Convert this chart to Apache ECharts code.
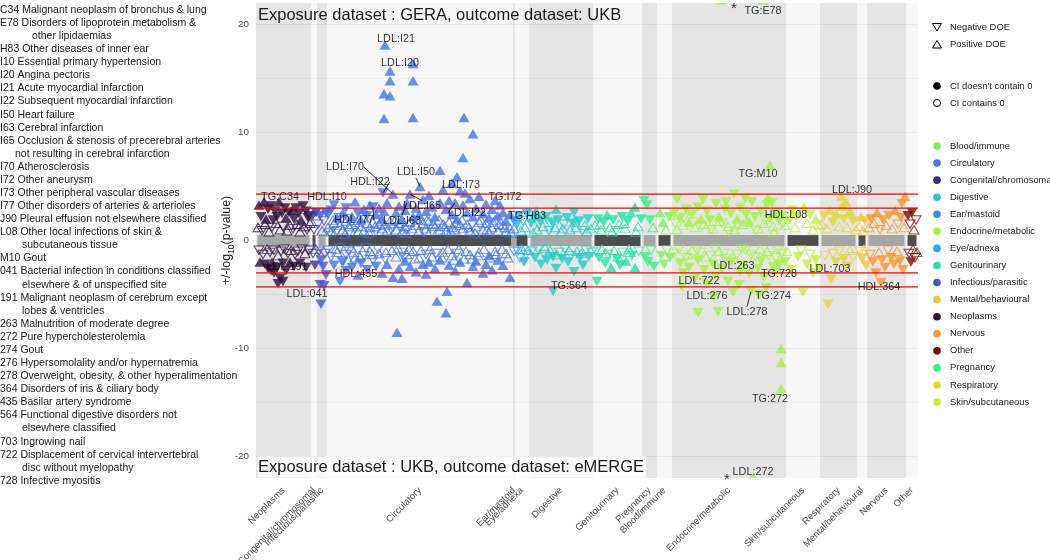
<!DOCTYPE html>
<html><head><meta charset="utf-8">
<script src="https://cdn.jsdelivr.net/npm/echarts@6.0.0/dist/echarts.min.js"></script>
<style>html,body{margin:0;padding:0;background:#fff}#chart{width:1050px;height:560px}</style>
</head><body><div id="chart"></div>
<script>
// ---------------- DATA ----------------
const categories = ['Neoplasms','Congenital/chromosomal','Infectious/parasitic','Circulatory','Ear/mastoid','Eye/adnexa','Digestive','Genitourinary','Pregnancy','Blood/immune','Endocrine/metabolic','Skin/subcutaneous','Respiratory','Mental/behavioural','Nervous','Other'];
const phenotypeCounts = [55,6,10,186,2,14,64,49,15,15,114,34,37,10,39,12];
const categoryColors = ['#2D0F3C','#372D8C','#4155D2','#4173EB','#378CF0','#23AFEB','#1ECDC8','#23E1A5','#32F082','#77F25A','#A0F53C','#C3F037','#E1D732','#F5C337','#FA9628','#780A0A'];
const legendOrder = ['Blood/immune','Circulatory','Congenital/chromosomal','Digestive','Ear/mastoid','Endocrine/metabolic','Eye/adnexa','Genitourinary','Infectious/parasitic','Mental/behavioural','Neoplasms','Nervous','Other','Pregnancy','Respiratory','Skin/subcutaneous'];
const yTicks = [-20,-10,0,10,20];
const yGridMajor = [-20,-10,10,20];
const yGridMinor = [-15,-5,5,15];
const thresholds = [3.0, 4.3, -3.0, -4.3];
const shapeLegend = ['Negative DOE','Positive DOE'];
const ciLegend = ["CI doesn't contain 0",'CI contains 0'];
const panelTitles = ['Exposure dataset : GERA, outcome dataset: UKB','Exposure dataset : UKB, outcome dataset: eMERGE'];
// point: [phenotype index, signed -log10 p, code (U/D filled up/down, u/d hollow up/down), label]
const neoplasmsPts = [[3,3.3,'U'],[8,3.6,'U','TG:C34'],[12,2.9,'D'],[15,3.2,'D'],[19,2.7,'D'],[23,3.6,'U'],[26,2.5,'D'],[29,3.0,'D'],[33,2.6,'D'],[36,2.8,'U'],[40,3.0,'D'],[43,2.5,'D'],[47,3.2,'D'],[50,2.7,'D'],[53,2.3,'D'],
[5,2.2,'D'],[10,2.0,'U'],[17,1.9,'D'],[21,2.2,'D'],[30,2.1,'U'],[38,2.0,'D'],[45,1.9,'U'],[52,2.1,'D'],
[2,1.2,'u'],[6,0.9,'d'],[9,1.5,'u'],[13,0.8,'u'],[16,1.2,'d'],[20,1.6,'u'],[24,1.0,'u'],[27,1.3,'d'],[31,0.9,'u'],[34,1.4,'u'],[37,1.1,'d'],[41,1.5,'u'],[44,0.8,'u'],[48,1.3,'u'],[51,1.0,'d'],[54,1.6,'u'],
[3,-0.9,'d'],[7,-1.3,'d'],[11,-0.8,'u'],[14,-1.1,'d'],[18,-0.9,'d'],[22,-1.4,'u'],[25,-1.0,'d'],[28,-0.8,'d'],[32,-1.2,'d'],[35,-0.9,'u'],[39,-1.3,'d'],[42,-1.0,'d'],[46,-0.8,'d'],[49,-1.2,'u'],[53,-0.9,'d'],
[4,-2.0,'U'],[9,-2.2,'D'],[12,-2.6,'D'],[16,-2.0,'U'],[18,-3.0,'D'],[21,-2.5,'D'],[22,-4.0,'D','LDL:191'],[24,-3.5,'D'],[27,-2.1,'D'],[30,-2.8,'D'],[34,-2.0,'U'],[38,-2.4,'D'],[44,-2.1,'D'],[50,-2.5,'D'],[15,-2.8,'D'],[27,-3.8,'D']];
const congenitalPts = [[56,2.2,'D'],[58,1.0,'d'],[60,2.6,'D'],[57,-1.2,'d'],[59,-2.3,'D'],[60,-0.8,'u']];
const infectiousPts = [[62,1.5,'d'],[64,2.3,'D'],[66,0.9,'u'],[68,1.8,'d'],[70,2.6,'D'],[63,-1.0,'d'],[65,-1.8,'D'],[67,-2.4,'D'],[69,-1.2,'d'],[64,-4.1,'D'],[68,-4.2,'D'],[65,-5.9,'D','LDL:041'],[70,-3.2,'D']];
const circulatoryPts = [[72,1.2,'u'],[72,-0.9,'d'],[72,2.4,'D'],[75,2.8,'D'],[75,0.8,'u'],[75,-1.5,'d'],[78,3.3,'D','HDL:I10'],[78,1.6,'u'],[78,-2.3,'D'],
[81,2.1,'U'],[81,0.9,'d'],[81,-1.1,'u'],[84,1.4,'u'],[84,-3.8,'D','HDL:435'],[84,-0.7,'d'],[87,2.6,'U'],[87,1.0,'u'],[87,-2.0,'D'],
[90,3.0,'D'],[90,1.8,'u'],[90,-1.3,'d'],[90,-2.8,'D'],[93,1.3,'u'],[93,0.7,'d'],[93,-1.0,'d'],[96,2.2,'U'],[96,1.5,'u'],[96,-2.5,'D'],
[99,3.6,'U'],[99,1.1,'d'],[99,-1.6,'u'],[102,2.5,'D'],[102,0.8,'u'],[102,-0.9,'d'],[102,-3.2,'U'],[105,1.9,'U'],[105,1.3,'u'],[105,-2.1,'D'],
[108,2.9,'U'],[108,0.9,'u'],[108,-1.4,'d'],[111,1.6,'u'],[111,2.3,'D'],[111,-2.7,'D'],[114,3.3,'U'],[114,1.2,'u'],[114,-1.0,'u'],
[117,3.1,'D','HDL:I77'],[117,1.7,'u'],[117,-1.8,'d'],[120,2.4,'U'],[120,0.8,'d'],[120,-2.4,'D'],[123,1.5,'u'],[123,3.0,'U'],[123,-1.2,'u'],
[126,2.0,'U'],[126,1.1,'u'],[126,-3.0,'U'],[127,4.4,'D','HDL:I22'],[128,13.6,'U'],[128,11.3,'U'],[128,2.7,'U'],
[129,18.1,'U','LDL:I21'],[129,1.4,'u'],[129,-1.7,'d'],[131,3.5,'U'],[131,0.9,'u'],[131,-2.2,'U'],
[134,15.7,'U','LDL:I20'],[134,14.8,'U'],[134,13.4,'U'],[134,1.8,'u'],[137,4.3,'U','LDL:I70'],[137,-3.4,'U'],[137,1.2,'d'],
[140,2.6,'U'],[140,1.0,'u'],[140,-1.5,'u'],[141,-8.5,'U'],[143,3.2,'U'],[143,1.6,'u'],[143,-2.6,'U'],
[146,2.0,'U'],[146,0.8,'u'],[146,-1.1,'d'],[146,-3.5,'U'],[149,2.8,'U'],[149,1.3,'u'],[149,-1.9,'U'],
[151,3.5,'U','LDL:I63'],[151,1.0,'d'],[151,-1.3,'u'],[154,4.3,'U','LDL:I65'],[154,1.7,'u'],[154,-2.4,'U'],
[157,16.4,'U'],[157,14.8,'U'],[157,11.4,'U'],[157,2.2,'U'],[157,-1.0,'u'],[160,3.0,'U'],[160,1.4,'u'],[160,-2.9,'U'],
[163,2.4,'U'],[163,0.9,'u'],[163,-1.6,'u'],[164,5.0,'U','LDL:I50'],[167,3.8,'U'],[167,1.6,'u'],[167,-2.2,'U'],
[170,2.7,'U'],[170,1.1,'u'],[170,-1.3,'d'],[170,-3.1,'U'],[173,4.2,'U'],[173,1.8,'u'],[173,-2.0,'U'],
[176,3.1,'U'],[176,0.8,'d'],[176,-1.5,'u'],[179,2.2,'U'],[179,1.3,'u'],[179,-2.6,'U'],[181,-5.6,'U'],
[184,6.5,'U'],[184,3.5,'U'],[184,1.0,'u'],[184,-1.8,'U'],[187,4.7,'U'],[187,1.5,'u'],[187,-1.1,'u'],
[190,-6.7,'U'],[190,2.9,'U'],[190,0.9,'u'],[191,-4.7,'U'],[193,3.7,'U'],[193,1.7,'u'],[193,-2.3,'U'],
[196,5.3,'U'],[196,2.4,'U'],[196,1.2,'u'],[196,-1.4,'u'],[199,3.5,'U','LDL:I22'],[199,1.0,'u'],[199,-2.8,'U'],
[201,5.9,'U'],[201,2.0,'U'],[201,-1.2,'d'],[204,4.6,'U'],[204,1.4,'u'],[204,-2.0,'U'],
[207,7.7,'U'],[207,3.3,'U'],[207,1.1,'u'],[208,11.4,'U'],[208,-1.7,'u'],[209,4.4,'U','LDL:I73'],
[211,-3.9,'U'],[211,2.6,'U'],[211,1.5,'u'],[214,3.9,'U'],[214,0.9,'u'],[214,-1.3,'u'],
[217,9.9,'U'],[217,2.2,'U'],[217,-2.4,'U'],[220,3.0,'U'],[220,1.3,'u'],[220,-1.9,'U'],
[223,4.1,'U'],[223,1.7,'u'],[223,-1.1,'u'],[227,-3.0,'U'],[227,2.5,'U'],[227,1.0,'u'],
[230,3.4,'U'],[230,1.6,'u'],[230,-2.2,'U'],[233,2.1,'U'],[233,0.8,'u'],[233,-1.4,'U'],
[236,2.9,'U'],[236,1.2,'u'],[236,-2.7,'U'],[239,3.7,'U'],[239,1.9,'u'],[239,-1.0,'u'],
[242,2.3,'U'],[242,0.9,'u'],[242,-1.8,'U'],[244,3.3,'U','TG:I72'],[247,2.6,'U'],[247,1.4,'u'],[247,-2.3,'U'],
[250,1.8,'U'],[250,0.8,'u'],[250,-1.2,'u'],[254,-3.4,'U'],[254,2.4,'U'],[254,1.1,'u'],
[74,0.7,'d'],[77,1.9,'u'],[80,-0.8,'u'],[83,2.1,'d'],[86,-1.9,'d'],[89,0.6,'u'],[92,2.0,'d'],[95,-0.7,'u'],[98,-1.9,'d'],[101,1.7,'u'],[104,-1.5,'u'],[107,2.1,'u'],[110,-0.7,'d'],[113,0.7,'u'],[116,-1.3,'u'],[119,1.3,'u'],[122,-0.8,'d'],[125,1.8,'u'],[130,-1.1,'u'],[133,0.8,'d'],[136,-0.9,'u'],[139,1.9,'u'],[142,-0.7,'u'],[145,1.2,'d'],[148,-1.6,'d'],[150,0.7,'u'],[153,-0.8,'u'],[156,1.1,'u'],[159,-1.7,'u'],[162,1.9,'u'],[165,-0.9,'u'],[168,0.7,'d'],[171,1.9,'u'],[174,-0.8,'u'],[177,1.5,'u'],[180,-1.2,'d'],[183,1.9,'u'],[186,-1.6,'u'],[189,1.3,'u'],[192,-0.8,'u'],[195,0.8,'u'],[198,-1.8,'u'],[200,1.6,'u'],[203,-0.8,'u'],[206,1.9,'u'],[210,-1.0,'u'],[213,1.2,'u'],[216,-1.7,'u'],[219,0.7,'u'],[222,-1.4,'u'],[225,1.9,'u'],[228,-0.8,'u'],[231,1.0,'u'],[234,-1.6,'u'],[237,1.7,'u'],[240,-1.3,'u'],[243,1.5,'u'],[246,-0.8,'u'],[249,1.2,'u'],[252,-1.6,'u'],[255,0.7,'u']];
const earPts = [[258,1.8,'D','TG:H83'],[258,-1.0,'d'],[258,1.1,'u']];
const eyePts = [[261,1.5,'D'],[263,2.3,'D'],[265,0.9,'u'],[267,1.8,'d'],[269,1.2,'u'],[271,2.5,'D'],[262,-1.0,'d'],[264,-1.6,'d'],[266,-0.8,'u'],[268,-2.0,'D'],[270,-1.3,'d'],[272,-0.9,'u']];
const digestivePts = [[275,1.6,'D'],[278,2.0,'D'],[281,1.0,'u'],[284,1.8,'D'],[287,1.3,'u'],[290,2.2,'D'],[293,0.9,'d'],[296,1.7,'D'],[299,1.2,'u'],[302,1.9,'D'],[305,0.8,'u'],[308,1.5,'d'],[311,2.1,'D'],[314,1.0,'u'],[317,1.6,'D'],[320,1.2,'u'],[323,1.8,'D'],[326,0.9,'d'],[329,1.4,'u'],[332,2.0,'D'],[335,1.1,'u'],
[280,2.7,'U'],[300,2.9,'U'],[318,2.6,'D'],
[276,-1.0,'d'],[279,-1.6,'D'],[282,-0.8,'d'],[285,-2.2,'D'],[288,-1.3,'d'],[291,-1.8,'D'],[294,-0.9,'u'],[297,-4.7,'D','TG:564'],[297,-1.5,'D'],[300,-2.6,'D'],[303,-1.1,'d'],[306,-1.7,'D'],[309,-0.8,'d'],[312,-2.0,'D'],[315,-1.4,'d'],[318,-2.9,'D'],[321,-1.0,'u'],[324,-1.6,'D'],[327,-2.3,'D'],[330,-0.9,'d'],[333,-1.5,'D'],[336,-1.1,'d'],
[277,0.7,'u'],[283,1.5,'d'],[289,-0.7,'u'],[295,1.4,'d'],[301,-1.3,'u'],[307,1.1,'u'],[313,-0.9,'u'],[319,1.7,'u'],[325,-1.2,'u'],[331,0.8,'u']];
const genitourinaryPts = [[339,1.4,'u'],[342,2.0,'D'],[345,1.0,'u'],[348,1.7,'D'],[351,2.4,'U'],[354,1.2,'u'],[357,1.9,'D'],[360,0.9,'d'],[363,1.5,'u'],[366,2.2,'D'],[369,1.1,'u'],[372,1.8,'D'],[375,2.6,'U'],[379,3.1,'U'],[382,1.3,'u'],[385,2.0,'D'],
[341,-3.8,'D'],[340,-1.0,'d'],[343,-1.6,'D'],[346,-0.8,'u'],[349,-2.1,'D'],[352,-1.3,'d'],[355,-2.5,'U'],[358,-0.9,'u'],[361,-1.7,'D'],[364,-2.3,'D'],[367,-1.1,'d'],[370,-1.9,'U'],[373,-0.8,'u'],[376,-1.4,'D'],[379,-2.5,'U'],[383,-1.0,'d'],
[344,1.5,'u'],[350,-1.2,'u'],[356,0.8,'u'],[362,-1.5,'u'],[368,1.6,'u'],[374,-1.1,'u'],[380,0.8,'u']];
const pregnancyPts = [[388,3.7,'D'],[391,3.3,'D'],[394,1.9,'D'],[397,1.2,'u'],[389,-1.5,'D'],[392,-2.0,'D'],[395,-0.9,'d'],[398,-2.4,'D']];
const bloodPts = [[404,2.6,'U'],[407,1.7,'U'],[410,1.0,'u'],[413,2.2,'D'],[405,-1.4,'D'],[408,-2.2,'D'],[411,-0.9,'d'],[414,-1.6,'D']];
const endocrinePts = [[418,2.5,'D'],[418,-1.2,'d'],[421,3.8,'D'],[421,1.0,'u'],[424,2.0,'D'],[424,-2.1,'D'],[427,1.4,'u'],[427,-3.0,'D'],[430,2.9,'D'],[430,-1.6,'d'],[433,1.7,'U'],[433,-2.5,'D'],[436,2.4,'D'],[436,-0.9,'u'],[439,1.2,'u'],[439,-3.5,'D'],
[442,-6.7,'D','LDL:276'],[442,3.1,'D'],[442,-1.8,'D'],[445,2.0,'U'],[445,-1.1,'d'],[448,1.5,'u'],[448,-2.7,'D'],[451,2.7,'D'],[451,-4.0,'D','LDL:722'],[454,1.9,'D'],[454,-1.4,'d'],[457,1.1,'u'],[457,-2.2,'D'],
[460,3.4,'D'],[460,-3.3,'D'],[462,-6.6,'D'],[463,2.2,'U'],[463,-1.0,'u'],[466,1.6,'d'],[466,-2.6,'D'],[469,2.9,'D'],[469,-1.7,'d'],[472,1.3,'u'],[472,-3.8,'D'],
[475,2.5,'D'],[475,-2.0,'D','LDL:263'],[477,-4.8,'D'],[478,4.3,'D'],[478,1.0,'u'],[481,2.0,'U'],[481,-1.3,'d'],[484,3.0,'D'],[484,-2.9,'D'],[487,1.5,'u'],[487,-2.3,'D'],
[490,2.4,'D'],[490,-0.9,'d'],[493,1.8,'U'],[493,-3.1,'D'],[495,-4.7,'D','LDL:278'],[496,3.6,'D'],[499,2.2,'D'],[499,-1.5,'d'],[502,1.1,'u'],[502,-2.6,'D'],[505,2.7,'D'],[505,-1.9,'D'],
[508,1.6,'u'],[508,-3.4,'D'],[510,-4.4,'D','TG:274'],[511,3.3,'D'],[511,-1.0,'u'],[512,4.0,'U'],[514,7.0,'U','TG:M10'],[514,2.0,'D'],[517,-2.4,'D'],[517,1.3,'u'],
[520,2.6,'D'],[520,-2.9,'D','TG:728'],[520,-1.6,'d'],[523,1.8,'D'],[523,-2.2,'D'],[525,-10.0,'U'],[525,-11.3,'U'],[525,-13.7,'U','TG:272'],[526,2.3,'D'],[526,-1.2,'d'],[529,1.4,'u'],[529,-2.0,'D'],
[465,22.3,'U'],[507,22.3,'U','TG:E78'],[497,-21.9,'U','LDL:272'],
[419,1.6,'d'],[423,-0.8,'d'],[428,2.1,'d'],[432,-1.3,'u'],[437,1.7,'d'],[441,-0.9,'d'],[446,1.3,'d'],[450,-1.5,'u'],[455,1.0,'d'],[459,-0.8,'d'],[464,1.8,'u'],[468,-1.2,'d'],[473,0.8,'d'],[477,-1.6,'u'],[482,1.4,'d'],[486,-0.8,'d'],[491,1.7,'u'],[495,-1.3,'d'],[500,0.9,'d'],[504,-0.8,'u'],[509,1.9,'d'],[513,-1.4,'d'],[518,0.8,'u'],[522,-0.9,'d'],[527,1.6,'d'],
[426,-4.3,'D'],[447,3.8,'D'],[458,-5.2,'D'],[470,3.6,'D'],[483,-4.1,'D'],[489,3.9,'D'],[503,-5.0,'D'],[516,3.5,'D']];
const skinPts = [[533,1.9,'D'],[536,2.8,'D'],[539,1.2,'u'],[540,2.2,'D','HDL:L08'],[542,-1.5,'D'],[545,-0.9,'d'],[547,-4.8,'D'],[548,3.1,'U'],[551,1.6,'u'],[551,-2.2,'D'],[554,2.4,'D'],[554,-1.3,'d'],[557,-3.0,'D'],[557,1.0,'u'],[560,2.0,'U'],[560,-1.8,'D'],[563,1.4,'u'],[563,-2.6,'D'],[535,-2.7,'D'],[531,-1.0,'u']];
const respiratoryPts = [[566,1.5,'u'],[568,2.3,'D'],[571,1.1,'u'],[572,-5.9,'D'],[574,2.8,'U'],[575,-3.6,'D','LDL:703'],[577,1.7,'D'],[577,-1.2,'d'],[580,2.5,'U'],[580,-2.0,'D'],[583,1.3,'u'],[583,-1.0,'d'],[585,4.1,'U','LDL:J90'],[586,3.2,'U'],[588,2.0,'D'],[588,-1.7,'D'],[591,1.2,'u'],[591,-2.4,'D'],[594,2.7,'U'],[594,-0.9,'u'],[597,1.8,'D'],[597,-1.5,'d'],[600,1.0,'u'],[569,-1.4,'d'],[590,3.6,'U']];
const mentalPts = [[603,1.3,'u'],[605,2.2,'U'],[607,0.9,'u'],[609,1.8,'D'],[604,-1.0,'d'],[606,-1.7,'D'],[608,-0.8,'u'],[610,-2.3,'D']];
const nervousPts = [[613,1.2,'u'],[615,2.0,'D'],[618,1.6,'u'],[621,2.6,'U'],[624,1.0,'d'],[627,1.9,'D'],[630,1.4,'u'],[633,2.3,'D'],[636,1.1,'u'],[639,2.8,'U'],[642,1.5,'d'],[645,2.1,'D'],[648,1.2,'u'],[614,-1.3,'d'],[617,-2.0,'D'],[620,-3.0,'D'],[623,-1.1,'u'],[625,-3.9,'D','HDL:364'],[626,-1.8,'D'],[629,-2.5,'D'],[632,-0.9,'d'],[635,-1.6,'D'],[638,-2.2,'D'],[641,-1.0,'u'],[644,-1.9,'D'],[647,-2.7,'D'],[649,4.1,'U'],[646,3.4,'D']];
const otherPts = [[652,2.3,'D'],[654,1.5,'d'],[656,2.6,'D'],[658,1.0,'u'],[660,1.9,'d'],[653,-1.2,'d'],[655,-2.0,'D'],[657,-0.8,'u'],[659,-1.6,'d'],[661,-1.1,'u']];
const categoryPoints = [neoplasmsPts,congenitalPts,infectiousPts,circulatoryPts,earPts,eyePts,digestivePts,genitourinaryPts,pregnancyPts,bloodPts,endocrinePts,skinPts,respiratoryPts,mentalPts,nervousPts,otherPts];
const offScaleMarks = [[478,21.5],[471,-22.2]];
const phenotypeNotes = [
 ['C34 Malignant neoplasm of bronchus & lung'],
 ['E78 Disorders of lipoprotein metabolism &','other lipidaemias'],
 ['H83 Other diseases of inner ear'],
 ['I10 Essential primary hypertension'],
 ['I20 Angina pectoris'],
 ['I21 Acute myocardial infarction'],
 ['I22 Subsequent myocardial infarction'],
 ['I50 Heart failure'],
 ['I63 Cerebral infarction'],
 ['I65 Occlusion & stenosis of precerebral arteries','not resulting in cerebral infarction'],
 ['I70 Atherosclerosis'],
 ['I72 Other aneurysm'],
 ['I73 Other peripheral vascular diseases'],
 ['I77 Other disorders of arteries & arterioles'],
 ['J90 Pleural effusion not elsewhere classified'],
 ['L08 Other local infections of skin &','subcutaneous tissue'],
 ['M10 Gout'],
 ['041 Bacterial infection in conditions classified','elsewhere & of unspecified site'],
 ['191 Malignant neoplasm of cerebrum except','lobes & ventricles'],
 ['263 Malnutrition of moderate degree'],
 ['272 Pure hypercholesterolemia'],
 ['274 Gout'],
 ['276 Hypersomolality and/or hypernatremia'],
 ['278 Overweight, obesity, & other hyperalimentation'],
 ['364 Disorders of iris & ciliary body'],
 ['435 Basilar artery syndrome'],
 ['564 Functional digestive disorders not','elsewhere classified'],
 ['703 Ingrowing nail'],
 ['722 Displacement of cervical intervertebral','disc without myelopathy'],
 ['728 Infective myositis']
];

// ---------------- LAYOUT / STYLE ----------------
const FONT = "'Liberation Sans', Arial, Helvetica, sans-serif";
const GRID = {left: 256, right: 132, top: 3, bottom: 82};
// label nudges in px: [dx, dy, leader line]
const labelNudge = {
 'TG:C34':[16,-5,false],'LDL:191':[9,-17,false],'LDL:041':[-14,-10,false],'HDL:I10':[-7,-8,false],'HDL:435':[16,-7,false],
 'HDL:I77':[-19,13,true],'HDL:I22':[-13,-11,true],'LDL:I21':[11,-6,false],'LDL:I20':[10,-8,false],'LDL:I70':[-48,-27,true],
 'LDL:I63':[-5,18,true],'LDL:I65':[12,12,true],'LDL:I50':[-4,-14,true],'LDL:I22':[12,10,true],'LDL:I73':[-4,-8,false],
 'TG:I72':[5,-8,false],'TG:H83':[13,-5,false],'TG:564':[16,-5,false],'TG:M10':[-12,9,false],'LDL:263':[3,4,false],
 'LDL:722':[-8,-3,false],'LDL:276':[9,-17,false],'TG:274':[7,8,false],'LDL:278':[-4,21,true],'TG:728':[3,2,false],
 'TG:272':[-11,11,false],'LDL:272':[0,-5,false],'TG:E78':[0,11,false],'HDL:L08':[-10,-2,false],'LDL:J90':[11,-6,false],
 'LDL:703':[-1,-10,false],'HDL:364':[-2,4,false]
};
const noteIndent = {1:32, 9:15};

// category ranges
const catStart = [];
let acc = 0;
phenotypeCounts.forEach(n => { catStart.push(acc); acc += n; });
const xMax = acc;
const catCenters = catStart.map((s,i) => s + phenotypeCounts[i]/2);

const allPts = [];
categoryPoints.forEach((pts, ci) => pts.forEach(p => allPts.push({x:p[0], y:p[1], code:p[2], label:p[3], color:categoryColors[ci]})));

const hollowData = allPts.filter(p => p.code==='u'||p.code==='d').map(p => ({
  value:[p.x,p.y], symbolRotate: p.code==='d'?180:0,
  itemStyle:{color:'rgba(255,255,255,0)', borderColor:p.color, borderWidth:1}
}));
const filledData = allPts.filter(p => p.code==='U'||p.code==='D').map(p => ({
  value:[p.x,p.y], symbolRotate: p.code==='D'?180:0,
  itemStyle:{color:p.color}
}));
const annData = allPts.filter(p => p.label).map(p => ({
  value:[p.x,p.y], name:p.label, labelLine:{show: !!(labelNudge[p.label]||[])[2]}
}));

const stripeAreas = catStart.map((s,i) => [
  {xAxis:s, yAxis:-22, itemStyle:{color: i%2===0 ? '#E5E5E5' : '#F7F7F7'}},
  {xAxis:s+phenotypeCounts[i], yAxis:22}
]);
const barAreas = catStart.map((s,i) => {
  let a = s + 1.5, b = s + phenotypeCounts[i] - 1.5;
  if (b - a < 3) { const c = s + phenotypeCounts[i]/2; a = c - 2.5; b = c + 2.5; }
  return [{xAxis:a, yAxis:-0.5, itemStyle:{color: i%2===0 ? '#A6A6A6' : '#4D4D4D'}}, {xAxis:b, yAxis:0.5}];
});
const thresholdSeries = thresholds.map((v, i) => ({
  type:'line', name:'threshold'+i, data:[[0,v],[xMax,v]], z:6, silent:true, symbol:'none',
  lineStyle:{color:'#FF0000', width:1.2, type:'solid'}, itemStyle:{color:'#FF0000'}, emphasis:{disabled:true}
}));

// ---------------- GRAPHICS ----------------
const graphics = [];
let line = 0;
phenotypeNotes.forEach((note, ni) => {
  note.forEach((t, li) => {
    graphics.push({type:'text', x: li===0 ? 0 : (noteIndent[ni] !== undefined ? noteIndent[ni] : 22), y: 10 + line*13.08,
      style:{text:t, fontSize:10.5, fontFamily:FONT, fill:'#1a1a1a', verticalAlign:'middle', align:'left'}});
    line++;
  });
});
// legend: shapes
const LX = 937, TX = 950;
graphics.push({type:'polygon', shape:{points:[[LX-4.5,23.5],[LX+4.5,23.5],[LX,31]]}, style:{fill:'none', stroke:'#000', lineWidth:1}});
graphics.push({type:'polygon', shape:{points:[[LX-4.5,48],[LX+4.5,48],[LX,40.5]]}, style:{fill:'none', stroke:'#000', lineWidth:1}});
shapeLegend.forEach((t,i) => graphics.push({type:'text', x:TX, y:27+i*17, style:{text:t, fontSize:9.4, fontFamily:FONT, fill:'#1a1a1a', verticalAlign:'middle'}}));
graphics.push({type:'circle', shape:{cx:LX, cy:86, r:3.8}, style:{fill:'#000'}});
graphics.push({type:'circle', shape:{cx:LX, cy:103, r:3.6}, style:{fill:'none', stroke:'#000', lineWidth:1}});
ciLegend.forEach((t,i) => graphics.push({type:'text', x:TX, y:86+i*17, style:{text:t, fontSize:9.4, fontFamily:FONT, fill:'#1a1a1a', verticalAlign:'middle'}}));
legendOrder.forEach((name,i) => {
  const ci = categories.indexOf(name);
  graphics.push({type:'circle', shape:{cx:LX, cy:146+i*17.07, r:3.8}, style:{fill:categoryColors[ci]}});
  graphics.push({type:'text', x:TX, y:146+i*17.07, style:{text:name, fontSize:9.4, fontFamily:FONT, fill:'#1a1a1a', verticalAlign:'middle'}});
});
// masks for off-scale overflow
graphics.push({type:'rect', shape:{x:250, y:0, width:680, height:GRID.top}, style:{fill:'#fff'}, z:100});
graphics.push({type:'rect', shape:{x:250, y:560-GRID.bottom, width:680, height:7}, style:{fill:'#fff'}, z:100});
// panel titles
graphics.push({type:'text', x:258, y:15, z:101, style:{text:panelTitles[0], fontSize:16.5, fontFamily:FONT, fill:'#1a1a1a', verticalAlign:'middle'}});
graphics.push({type:'text', x:258, y:467, z:101, style:{text:panelTitles[1], fontSize:16.5, fontFamily:FONT, fill:'#1a1a1a', verticalAlign:'middle', backgroundColor:'rgba(255,255,255,0.75)', padding:[2,2,2,0]}});

// ---------------- CHART ----------------
const chart = echarts.init(document.getElementById('chart'), null, {renderer:'canvas'});
const option = {
  animation:false,
  backgroundColor:'#fff',
  textStyle:{fontFamily:FONT},
  grid:{left:GRID.left, right:GRID.right, top:GRID.top, bottom:GRID.bottom, containLabel:false, outerBoundsMode:'none'},
  xAxis:{type:'value', min:0, max:xMax,
    axisLine:{show:false}, axisTick:{show:false}, splitLine:{show:false},
    axisLabel:{customValues:catCenters, rotate:45, margin:11, fontSize:9.5, color:'#4d4d4d', fontFamily:FONT, hideOverlap:false,
      formatter:(v) => { const i = catCenters.findIndex(c => Math.abs(c-v)<1e-6); return i>=0 ? categories[i] : ''; }}},
  yAxis:{type:'value', min:-22, max:22,
    axisLine:{show:false}, axisTick:{show:false}, splitLine:{show:false},
    axisLabel:{customValues:yTicks, margin:7, fontSize:9.8, color:'#4d4d4d', fontFamily:FONT},
    name:'{n|+/-log}{s|10}{n|(p-value)}', nameLocation:'middle', nameRotate:90, nameGap:20, nameMoveOverlap:false,
    nameTextStyle:{color:'#1a1a1a', fontFamily:FONT, rich:{n:{fontSize:12.3, lineHeight:18, fontFamily:FONT, color:'#1a1a1a'}, s:{fontSize:8.6, lineHeight:11, verticalAlign:'bottom', fontFamily:FONT, color:'#1a1a1a'}}}},
  graphic:graphics,
  series:[
    {type:'scatter', name:'stripes', data:[], z:1, silent:true,
      markArea:{silent:true, data:stripeAreas}},
    {type:'scatter', name:'grid', data:[], z:2, silent:true,
      markLine:{silent:true, symbol:'none', label:{show:false},
        data: yGridMajor.map(v => ({yAxis:v, lineStyle:{color:'rgba(0,0,0,0.055)', width:1, type:'solid'}}))
          .concat(yGridMinor.map(v => ({yAxis:v, lineStyle:{color:'rgba(0,0,0,0.035)', width:1, type:'solid'}})))}},
    {type:'scatter', name:'hollow', data:hollowData, z:3, symbol:'triangle', symbolSize:[10,8.5], clip:false, silent:true},
    {type:'scatter', name:'filled', data:filledData, z:4, symbol:'triangle', symbolSize:[11,9.5], clip:false, silent:true},
    {type:'scatter', name:'bars', data:[], z:5, silent:true, markArea:{silent:true, data:barAreas}}
  ].concat(thresholdSeries).concat([
    {type:'scatter', name:'labels', data:annData, z:105, symbol:'circle', symbolSize:1, clip:false, silent:true,
      itemStyle:{color:'rgba(0,0,0,0)'},
      label:{show:true, position:'inside', formatter:(p)=>p.name, fontSize:10.8, color:'#000', fontFamily:FONT},
      labelLine:{show:false, lineStyle:{color:'#000', width:0.8}},
      labelLayout:(params) => { const n = labelNudge[annData[params.dataIndex].name] || [0,0]; return {dx:n[0], dy:n[1], hideOverlap:false}; }},
    {type:'scatter', name:'offscale', data:offScaleMarks, z:110, symbol:'circle', symbolSize:1, clip:false, silent:true,
      itemStyle:{color:'rgba(0,0,0,0)'},
      label:{show:true, position:'inside', formatter:'*', fontSize:15, color:'#000', fontFamily:FONT}}
  ])
};
chart.setOption(option);
</script></body></html>
